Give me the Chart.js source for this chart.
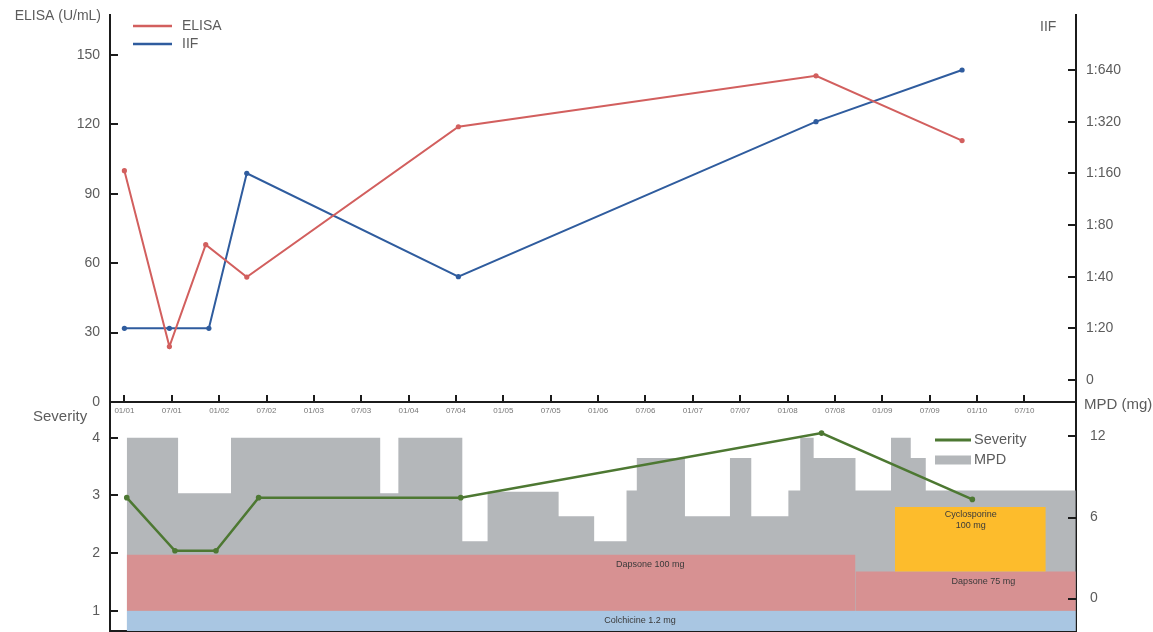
<!DOCTYPE html>
<html>
<head>
<meta charset="utf-8">
<script src="https://cdn.jsdelivr.net/npm/chart.js@4"></script>
<style>
  html, body { margin: 0; padding: 0; background: #fff; overflow: hidden; }
  #wrap { position: relative; width: 1153px; height: 632px; overflow: hidden; }
  canvas { position: absolute; left: 0; }
  #upper { top: 0; }
  #lower { top: 392px; }
</style>
</head>
<body>
<div id="wrap">
  <canvas id="upper" width="1153" height="420" style="width:1153px;height:420px"></canvas>
  <canvas id="lower" width="1153" height="243" style="width:1153px;height:243px"></canvas>
</div>
<script>
// ---- data (time in months after 01/01) ----
const tickLabels = ['01/01','07/01','01/02','07/02','01/03','07/03','01/04','07/04','01/05','07/05',
                    '01/06','07/06','01/07','07/07','01/08','07/08','01/09','07/09','01/10','07/10'];

const elisaMonths = [0, 5.7, 10.3, 15.5, 42.3, 87.6, 106.1];
const elisaValues = [100, 24, 68, 54, 119, 141, 113];
const elisaTicks  = [0, 30, 60, 90, 120, 150];

const iifMonths = [0, 5.7, 10.7, 15.5, 42.3, 87.6, 106.1];
const iifTiters = ['1:20', '1:20', '1:20', '1:160', '1:40', '1:320', '1:640'];
const iifLevels = ['0', '1:20', '1:40', '1:80', '1:160', '1:320', '1:640'];

const severityMonths = [0.3, 6.4, 11.6, 17.0, 42.6, 88.3, 107.4];
const severityScores = [2.96, 2.04, 2.04, 2.96, 2.96, 4.08, 2.93];
const severityTicks  = [1, 2, 3, 4];

// methylprednisolone dose, each value holds until the next change
const mpdMonths = [0.3, 6.8, 13.5, 32.4, 34.7, 42.8, 46.0, 55.0, 59.5, 63.6, 64.9, 71.0,
                   76.7, 79.4, 84.1, 85.6, 87.3, 92.6, 97.1, 99.6, 101.5, 120.5];
const mpdDoses  = [11.9, 7.8, 11.9, 7.8, 11.9, 4.25, 7.9, 6.1, 4.25, 8, 10.4, 6.1,
                   10.4, 6.1, 8, 11.9, 10.4, 8, 11.9, 10.4, 8, 8];
const mpdTicks  = [0, 6, 12];

// concomitant drugs: time span and the band they occupy on the severity scale
const drugNames = ['Colchicine 1.2 mg', 'Dapsone 100 mg', 'Dapsone 75 mg', 'Cyclosporine\n100 mg'];
const drugStart = [0.3, 0.3, 92.6, 97.6];
const drugEnd   = [120.5, 92.6, 120.5, 116.7];
const drugLow   = [0.6, 1, 1, 1.68];
const drugHigh  = [1, 1.97, 1.68, 2.8];

// ---- styling ----
const FONT = "'Liberation Sans', Arial, Helvetica, sans-serif";
const TEXT = '#5c5c5c';
const AXIS = '#1b1b1b';
const RED = '#d25f5e';
const BLUE = '#2f5c9e';
const GREEN = '#4d7832';
const GREY = '#b4b7ba';
const DRUG_COLORS = ['#a9c6e2', '#d79192', '#d79192', '#fdbc2c'];
const DRUG_LABEL_AT = [[65.3, 0.83], [66.6, 1.80], [108.8, 1.50], [107.2, 2.565]];
const X_MIN = -1.824, X_MAX = 120.53;
const LOWER_TOP = 392;

Chart.defaults.font.family = FONT;
Chart.defaults.color = TEXT;

const pts = (xs, ys) => xs.map((x, i) => ({ x, y: ys[i] }));
const fixedTicks = vals => scale => { scale.ticks = vals.map(v => ({ value: v })); };
const fitWidth = w => s => { s.width = w; s.paddingTop = 0; s.paddingBottom = 0; };
const fitHeight = h => s => { s.height = h; s.paddingLeft = 0; s.paddingRight = 0; };

// short tick marks pointing into the plot area
const inwardTicks = {
  id: 'inwardTicks',
  afterDraw(chart, args, opts) {
    const { ctx, chartArea: a } = chart;
    ctx.save();
    ctx.strokeStyle = AXIS;
    ctx.lineWidth = 2;
    for (const id of opts.scales) {
      const s = chart.scales[id];
      for (const t of s.ticks) {
        const p = Math.round(s.getPixelForValue(t.value));
        ctx.beginPath();
        if (s.isHorizontal()) { ctx.moveTo(p, a.bottom); ctx.lineTo(p, a.bottom - opts.xLen); }
        else if (s.position === 'left') { ctx.moveTo(a.left, p); ctx.lineTo(a.left + opts.yLen, p); }
        else { ctx.moveTo(a.right, p); ctx.lineTo(a.right - opts.yLen, p); }
        ctx.stroke();
      }
    }
    ctx.restore();
  }
};

// axis titles
const axisTitles = {
  id: 'axisTitles',
  afterDraw(chart, args, opts) {
    const ctx = chart.ctx;
    ctx.save();
    ctx.fillStyle = TEXT;
    ctx.textBaseline = 'middle';
    for (const t of opts.items) {
      ctx.font = t.size + 'px ' + FONT;
      ctx.textAlign = t.align;
      ctx.fillText(t.text, t.x, t.y);
    }
    ctx.restore();
  }
};

// key drawn inside the plot area
const keyBox = {
  id: 'keyBox',
  afterDraw(chart, args, opts) {
    const ctx = chart.ctx;
    ctx.save();
    opts.entries.forEach((e, i) => {
      const ds = chart.data.datasets[e.dataset];
      const y = opts.y + i * opts.rowGap;
      if (e.kind === 'line') {
        ctx.strokeStyle = ds.borderColor;
        ctx.lineWidth = opts.lineWidth;
        ctx.beginPath();
        ctx.moveTo(opts.x, y);
        ctx.lineTo(opts.x + opts.swatch, y);
        ctx.stroke();
      } else {
        ctx.fillStyle = ds.backgroundColor;
        ctx.fillRect(opts.x, y - opts.boxH / 2, opts.swatch, opts.boxH);
      }
      ctx.fillStyle = TEXT;
      ctx.font = opts.size + 'px ' + FONT;
      ctx.textAlign = 'left';
      ctx.textBaseline = 'middle';
      ctx.fillText(ds.label, opts.x + opts.swatch + opts.gap, y);
    });
    ctx.restore();
  }
};

// names written inside the drug bands
const bandNames = {
  id: 'bandNames',
  afterDatasetsDraw(chart) {
    const { ctx, scales } = chart;
    ctx.save();
    ctx.font = '9px ' + FONT;
    ctx.fillStyle = '#3a3a3a';
    ctx.textAlign = 'center';
    ctx.textBaseline = 'middle';
    drugNames.forEach((name, i) => {
      const lines = name.split('\n');
      const x = scales.x.getPixelForValue(DRUG_LABEL_AT[i][0]);
      const y = scales.sev.getPixelForValue(DRUG_LABEL_AT[i][1]);
      lines.forEach((ln, k) => ctx.fillText(ln, x, y + (k - (lines.length - 1) / 2) * 11));
    });
    ctx.restore();
  }
};

const noGrid = { display: false, drawTicks: false };
const axisBorder = { display: true, color: AXIS, width: 2 };

// ---- upper panel: ELISA and IIF ----
new Chart(document.getElementById('upper'), {
  type: 'line',
  data: {
    datasets: [
      { label: 'ELISA', data: pts(elisaMonths, elisaValues), yAxisID: 'elisa',
        borderColor: RED, backgroundColor: RED, borderWidth: 2, pointRadius: 2.6,
        pointBorderWidth: 0, tension: 0 },
      { label: 'IIF', data: pts(iifMonths, iifTiters.map(t => iifLevels.indexOf(t))), yAxisID: 'iif',
        borderColor: BLUE, backgroundColor: BLUE, borderWidth: 2, pointRadius: 2.6,
        pointBorderWidth: 0, tension: 0 }
    ]
  },
  options: {
    responsive: false, animation: false, events: [],
    layout: { padding: { top: 15, left: 0, right: 0, bottom: 0 } },
    plugins: {
      legend: { display: false }, tooltip: { enabled: false },
      inwardTicks: { scales: ['x', 'elisa', 'iif'], xLen: 7, yLen: 8 },
      axisTitles: { items: [
        { text: 'ELISA (U/mL)', x: 101, y: 16, align: 'right', size: 14 },
        { text: 'IIF', x: 1040, y: 27, align: 'left', size: 14 }
      ] },
      keyBox: { x: 133, y: 26, rowGap: 18, swatch: 39, gap: 10, lineWidth: 2.5, boxH: 9, size: 14,
        entries: [{ dataset: 0, kind: 'line' }, { dataset: 1, kind: 'line' }] }
    },
    scales: {
      x: { type: 'linear', position: 'bottom', min: X_MIN, max: X_MAX, bounds: 'data',
        afterBuildTicks: fixedTicks(tickLabels.map((_, i) => i * 6)), afterFit: fitHeight(18),
        grid: noGrid, border: axisBorder,
        ticks: { padding: 4, font: { size: 8 }, color: '#777', maxRotation: 0, autoSkip: false,
          callback: (v, i) => tickLabels[i] } },
      elisa: { type: 'linear', position: 'left', min: 0, max: 167.3, bounds: 'data',
        afterBuildTicks: fixedTicks(elisaTicks), afterFit: fitWidth(110),
        grid: noGrid, border: axisBorder,
        ticks: { padding: 10, font: { size: 14 }, color: TEXT } },
      iif: { type: 'linear', position: 'right', min: -0.426, max: 7.064, bounds: 'data',
        afterBuildTicks: fixedTicks(iifLevels.map((_, i) => i)), afterFit: fitWidth(77),
        grid: noGrid, border: axisBorder,
        ticks: { padding: 10, font: { size: 14 }, color: TEXT, callback: v => iifLevels[v] } }
    }
  },
  plugins: [inwardTicks, axisTitles, keyBox]
});

// ---- lower panel: severity, MPD and concomitant drugs ----
const drugSets = drugNames.map((name, i) => ({
  label: name.replace('\n', ' '),
  data: [{ x: drugStart[i], y: drugHigh[i] }, { x: drugEnd[i], y: drugHigh[i] }],
  yAxisID: 'sev', borderWidth: 0, borderColor: 'transparent', pointRadius: 0,
  backgroundColor: DRUG_COLORS[i],
  fill: i === 0 ? 'start' : { value: drugLow[i] },
  order: i === 3 ? 1 : (i === 0 ? 3 : 2)
}));

new Chart(document.getElementById('lower'), {
  type: 'line',
  data: {
    datasets: [
      { label: 'Severity', data: pts(severityMonths, severityScores), yAxisID: 'sev',
        borderColor: GREEN, backgroundColor: GREEN, borderWidth: 2.5, pointRadius: 2.8,
        pointBorderWidth: 0, tension: 0, order: 0 },
      { label: 'MPD', data: pts(mpdMonths, mpdDoses), yAxisID: 'mpd', stepped: true,
        borderWidth: 0, borderColor: 'transparent', pointRadius: 0,
        backgroundColor: GREY, fill: 'start', order: 4 },
      ...drugSets
    ]
  },
  options: {
    responsive: false, animation: false, events: [],
    layout: { padding: { top: 10, left: 0, right: 0, bottom: 0 } },
    plugins: {
      legend: { display: false }, tooltip: { enabled: false },
      inwardTicks: { scales: ['sev', 'mpd'], xLen: 0, yLen: 8 },
      axisTitles: { items: [
        { text: 'Severity', x: 33, y: 417 - LOWER_TOP, align: 'left', size: 15 },
        { text: 'MPD (mg)', x: 1084, y: 405 - LOWER_TOP, align: 'left', size: 15 }
      ] },
      keyBox: { x: 935, y: 440 - LOWER_TOP, rowGap: 20, swatch: 36, gap: 3, lineWidth: 3, boxH: 9, size: 14.5,
        entries: [{ dataset: 0, kind: 'line' }, { dataset: 1, kind: 'box' }] }
    },
    scales: {
      x: { type: 'linear', position: 'bottom', min: X_MIN, max: X_MAX, bounds: 'data',
        afterFit: fitHeight(1), grid: noGrid, border: axisBorder, ticks: { display: false } },
      sev: { type: 'linear', position: 'left', min: 0.648, max: 4.619, bounds: 'data',
        afterBuildTicks: fixedTicks(severityTicks), afterFit: fitWidth(110),
        grid: noGrid, border: axisBorder,
        ticks: { padding: 10, font: { size: 14 }, color: TEXT } },
      mpd: { type: 'linear', position: 'right', min: -2.397, max: 14.545, bounds: 'data',
        afterBuildTicks: fixedTicks(mpdTicks), afterFit: fitWidth(77),
        grid: noGrid, border: axisBorder,
        ticks: { padding: 14, font: { size: 14 }, color: TEXT } }
    }
  },
  plugins: [inwardTicks, axisTitles, keyBox, bandNames]
});
</script>
</body>
</html>
